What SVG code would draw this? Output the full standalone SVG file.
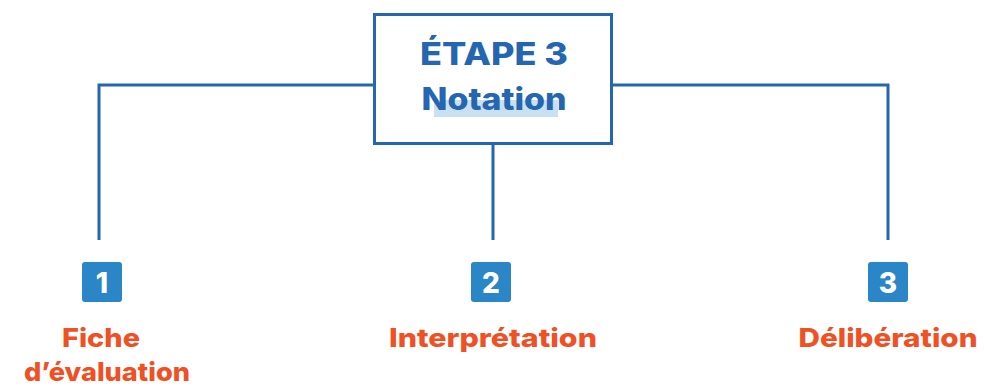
<svg xmlns="http://www.w3.org/2000/svg" width="984" height="389" viewBox="0 0 984 389">
  <style>
    .line { fill: none; stroke: #2566b0; stroke-width: 3; }
    .title { font-family: Inter, "Liberation Sans", sans-serif; font-weight: 800; font-size: 31px; fill: #2566b0; text-anchor: middle; }
    .badge { fill: #2a86c6; }
    .num { font-family: Inter, "Liberation Sans", sans-serif; font-weight: 800; font-size: 28px; fill: #ffffff; text-anchor: middle; }
    .label { font-family: Inter, "Liberation Sans", sans-serif; font-weight: 800; font-size: 26px; fill: #ef5024; text-anchor: middle; }
  </style>

  <!-- connectors -->
  <g id="connectors" class="line">
    <polyline points="373,85 99,85 99,240"/>
    <polyline points="612,85 888,85 888,240"/>
    <line x1="493" y1="144" x2="493" y2="240"/>
  </g>

  <!-- main step box -->
  <g id="etape3">
    <rect x="374.5" y="14.5" width="237" height="129" fill="#ffffff" class="line"/>
    <rect x="434" y="100" width="124" height="17" fill="#c9dff2"/>
    <text class="title" x="494" y="65" textLength="148" lengthAdjust="spacingAndGlyphs">ÉTAPE 3</text>
    <text class="title" x="494" y="110" textLength="145" lengthAdjust="spacingAndGlyphs">Notation</text>
  </g>

  <g id="item1">
    <rect class="badge" x="82" y="262" width="40" height="40" rx="3"/>
    <text class="num" x="102" y="293">1</text>
    <text class="label" x="101" y="347" textLength="78" lengthAdjust="spacingAndGlyphs">Fiche</text>
    <text class="label" x="107" y="381" textLength="166" lengthAdjust="spacingAndGlyphs">d’évaluation</text>
  </g>

  <g id="item2">
    <rect class="badge" x="471" y="262" width="40" height="40" rx="3"/>
    <text class="num" x="491" y="293">2</text>
    <text class="label" x="493" y="347" textLength="208" lengthAdjust="spacingAndGlyphs">Interprétation</text>
  </g>

  <g id="item3">
    <rect class="badge" x="868" y="262" width="40" height="40" rx="3"/>
    <text class="num" x="888" y="293">3</text>
    <text class="label" x="888" y="347" textLength="179" lengthAdjust="spacingAndGlyphs">Délibération</text>
  </g>
</svg>
